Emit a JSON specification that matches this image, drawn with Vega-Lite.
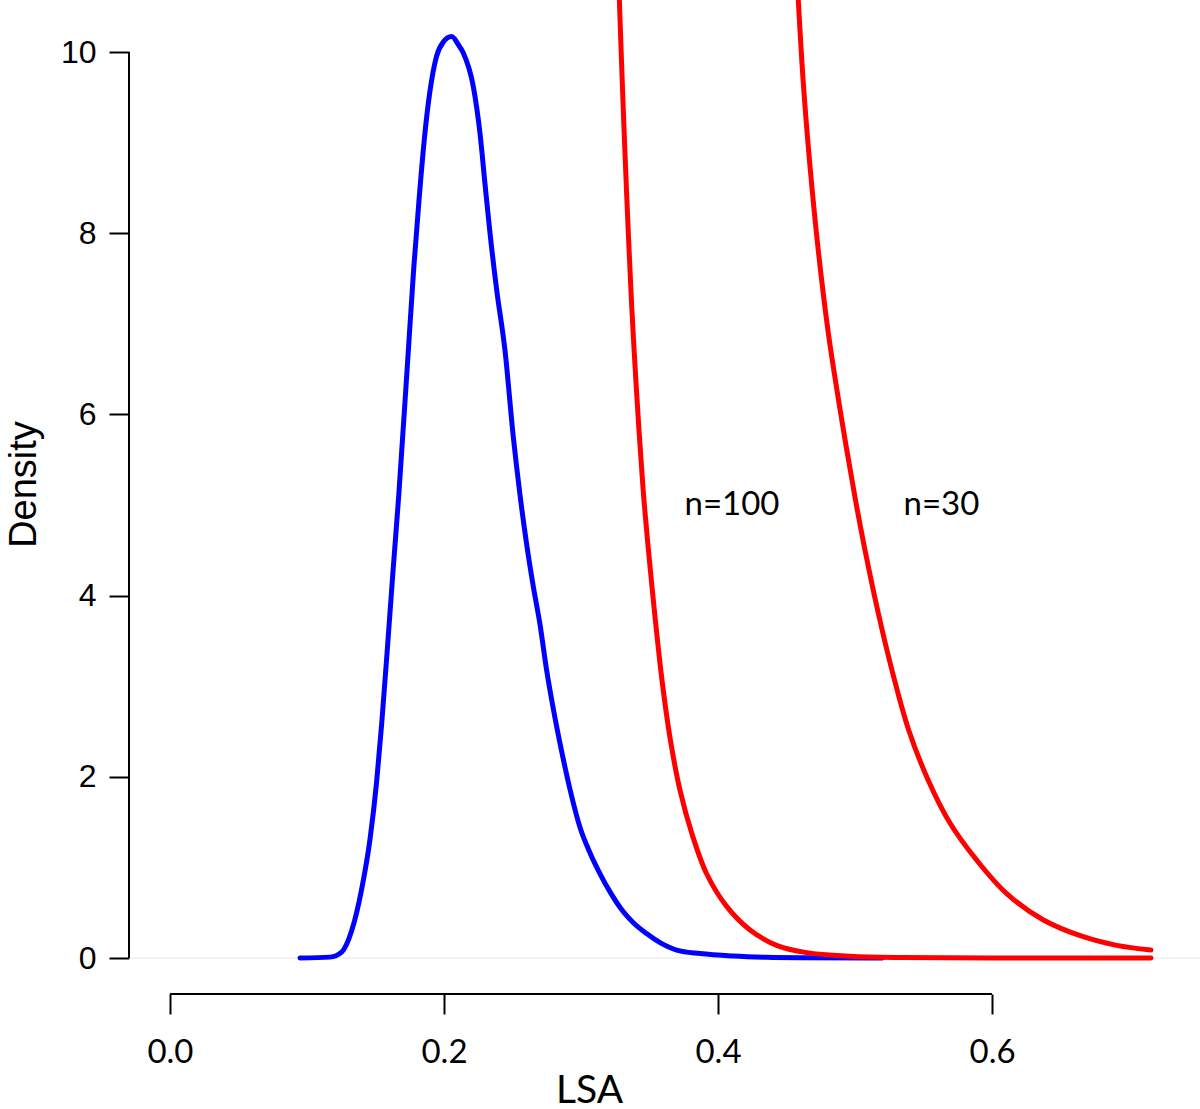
{
  "$schema": "https://vega.github.io/schema/vega-lite/v6.json",
  "width": 1071,
  "height": 994,
  "autosize": {"type": "none"},
  "padding": {"left": 129, "top": 0, "right": 0, "bottom": 115},
  "background": "white",
  "config": {"view": {"stroke": null}},
  "datasets": {
    "curves": [
      {"s": "blue", "x": 0.0949, "y": 0},
      {"s": "blue", "x": 0.1168, "y": 0.01},
      {"s": "blue", "x": 0.1253, "y": 0.065},
      {"s": "blue", "x": 0.1326, "y": 0.30},
      {"s": "blue", "x": 0.1399, "y": 0.76},
      {"s": "blue", "x": 0.1460, "y": 1.31},
      {"s": "blue", "x": 0.1508, "y": 1.94},
      {"s": "blue", "x": 0.1545, "y": 2.58},
      {"s": "blue", "x": 0.1587, "y": 3.42},
      {"s": "blue", "x": 0.1628, "y": 4.27},
      {"s": "blue", "x": 0.1670, "y": 5.11},
      {"s": "blue", "x": 0.1740, "y": 6.71},
      {"s": "blue", "x": 0.1780, "y": 7.63},
      {"s": "blue", "x": 0.1818, "y": 8.37},
      {"s": "blue", "x": 0.1856, "y": 9.03},
      {"s": "blue", "x": 0.1895, "y": 9.54},
      {"s": "blue", "x": 0.1945, "y": 9.95},
      {"s": "blue", "x": 0.1995, "y": 10.11},
      {"s": "blue", "x": 0.2056, "y": 10.17},
      {"s": "blue", "x": 0.2105, "y": 10.08},
      {"s": "blue", "x": 0.2141, "y": 9.99},
      {"s": "blue", "x": 0.2214, "y": 9.62},
      {"s": "blue", "x": 0.2263, "y": 9.10},
      {"s": "blue", "x": 0.2299, "y": 8.55},
      {"s": "blue", "x": 0.2336, "y": 8.00},
      {"s": "blue", "x": 0.2385, "y": 7.37},
      {"s": "blue", "x": 0.2445, "y": 6.71},
      {"s": "blue", "x": 0.2506, "y": 5.75},
      {"s": "blue", "x": 0.2555, "y": 5.11},
      {"s": "blue", "x": 0.2604, "y": 4.56},
      {"s": "blue", "x": 0.2652, "y": 4.10},
      {"s": "blue", "x": 0.2701, "y": 3.68},
      {"s": "blue", "x": 0.2750, "y": 3.17},
      {"s": "blue", "x": 0.2798, "y": 2.75},
      {"s": "blue", "x": 0.2859, "y": 2.28},
      {"s": "blue", "x": 0.2920, "y": 1.86},
      {"s": "blue", "x": 0.2993, "y": 1.44},
      {"s": "blue", "x": 0.3066, "y": 1.16},
      {"s": "blue", "x": 0.3139, "y": 0.93},
      {"s": "blue", "x": 0.3212, "y": 0.73},
      {"s": "blue", "x": 0.3309, "y": 0.51},
      {"s": "blue", "x": 0.3382, "y": 0.39},
      {"s": "blue", "x": 0.3479, "y": 0.27},
      {"s": "blue", "x": 0.3577, "y": 0.17},
      {"s": "blue", "x": 0.3698, "y": 0.088},
      {"s": "blue", "x": 0.3869, "y": 0.05},
      {"s": "blue", "x": 0.4112, "y": 0.022},
      {"s": "blue", "x": 0.4355, "y": 0.008},
      {"s": "blue", "x": 0.4600, "y": 0.003},
      {"s": "blue", "x": 0.5200, "y": 0},
      {"s": "n100", "x": 0.3280, "y": 10.574},
      {"s": "n100", "x": 0.3306, "y": 9.47},
      {"s": "n100", "x": 0.3335, "y": 8.37},
      {"s": "n100", "x": 0.3368, "y": 7.26},
      {"s": "n100", "x": 0.3402, "y": 6.34},
      {"s": "n100", "x": 0.3452, "y": 5.2},
      {"s": "n100", "x": 0.3490, "y": 4.54},
      {"s": "n100", "x": 0.3538, "y": 3.80},
      {"s": "n100", "x": 0.3591, "y": 3.07},
      {"s": "n100", "x": 0.3652, "y": 2.41},
      {"s": "n100", "x": 0.3723, "y": 1.85},
      {"s": "n100", "x": 0.3808, "y": 1.38},
      {"s": "n100", "x": 0.3917, "y": 0.93},
      {"s": "n100", "x": 0.4063, "y": 0.57},
      {"s": "n100", "x": 0.4234, "y": 0.31},
      {"s": "n100", "x": 0.4428, "y": 0.14},
      {"s": "n100", "x": 0.4647, "y": 0.06},
      {"s": "n100", "x": 0.4964, "y": 0.02},
      {"s": "n100", "x": 0.5328, "y": 0.005},
      {"s": "n100", "x": 0.6000, "y": 0},
      {"s": "n100", "x": 0.7160, "y": 0},
      {"s": "n30", "x": 0.4586, "y": 10.574},
      {"s": "n30", "x": 0.4623, "y": 9.65},
      {"s": "n30", "x": 0.4672, "y": 8.73},
      {"s": "n30", "x": 0.4732, "y": 7.81},
      {"s": "n30", "x": 0.4805, "y": 6.90},
      {"s": "n30", "x": 0.4900, "y": 5.97},
      {"s": "n30", "x": 0.5003, "y": 5.06},
      {"s": "n30", "x": 0.5068, "y": 4.54},
      {"s": "n30", "x": 0.5171, "y": 3.80},
      {"s": "n30", "x": 0.5276, "y": 3.14},
      {"s": "n30", "x": 0.5391, "y": 2.52},
      {"s": "n30", "x": 0.5535, "y": 1.96},
      {"s": "n30", "x": 0.5693, "y": 1.49},
      {"s": "n30", "x": 0.5888, "y": 1.08},
      {"s": "n30", "x": 0.6107, "y": 0.71},
      {"s": "n30", "x": 0.6375, "y": 0.42},
      {"s": "n30", "x": 0.6666, "y": 0.235},
      {"s": "n30", "x": 0.6910, "y": 0.14},
      {"s": "n30", "x": 0.7160, "y": 0.088}
    ],
    "zero": [{"y": 0}],
    "yaxisline": [{"x": -0.0299, "y": 0, "y2": 10}],
    "xaxisline": [{"x": 0, "x2": 0.6, "y": -0.397}],
    "labels": [
      {"x": 0.4102, "y": 5.0, "t": "n=100"},
      {"x": 0.5631, "y": 5.0, "t": "n=30"}
    ]
  },
  "layer": [
    {
      "data": {"name": "zero"},
      "mark": {"type": "rule", "color": "#e6e6e6", "strokeWidth": 1},
      "encoding": {
        "y": {
          "field": "y", "type": "quantitative",
          "scale": {"domain": [-0.397, 10.574], "nice": false, "zero": false},
          "axis": {
            "orient": "left", "values": [0, 2, 4, 6, 8, 10], "format": "d",
            "domain": false, "grid": false, "tickSize": 20, "tickWidth": 2, "tickColor": "black",
            "labelFont": "Liberation Sans, Arial, sans-serif", "labelFontSize": 32, "labelColor": "black",
            "labelBaseline": "middle", "labelAlign": "right", "labelPadding": 13, "labelFlush": false, "labelOverlap": false,
            "title": "Density", "titleFont": "Liberation Sans, Arial, sans-serif", "titleFontSize": 38, "titleFontWeight": "normal",
            "titleColor": "black", "titleAngle": 270, "titleBaseline": "alphabetic", "titleAlign": "center",
            "titleX": -94, "titleY": 484
          }
        }
      }
    },
    {
      "data": {"name": "curves"},
      "transform": [{"filter": "datum.s === 'blue'"}],
      "mark": {"type": "line", "color": "#0000ff", "strokeWidth": 5, "strokeCap": "round", "strokeJoin": "round", "interpolate": "monotone", "clip": true},
      "encoding": {
        "x": {
          "field": "x", "type": "quantitative",
          "scale": {"domain": [-0.0299, 0.7518], "nice": false, "zero": false},
          "axis": {
            "orient": "bottom", "values": [0, 0.2, 0.4, 0.6], "format": ".1f",
            "domain": false, "grid": false, "tickSize": 20, "tickWidth": 2, "tickColor": "black",
            "labelFont": "Lato", "labelFontSize": 33, "labelColor": "black",
            "labelBaseline": "alphabetic", "labelPadding": 48, "labelFlush": false, "labelOverlap": false,
            "title": "LSA", "titleFont": "Lato", "titleFontSize": 39, "titleFontWeight": "normal",
            "titleColor": "black", "titleBaseline": "alphabetic", "titleAlign": "center",
            "titleX": 460, "titleY": 108
          }
        },
        "y": {"field": "y", "type": "quantitative"}
      }
    },
    {
      "data": {"name": "curves"},
      "transform": [{"filter": "datum.s !== 'blue'"}],
      "mark": {"type": "line", "color": "#ff0000", "strokeWidth": 5, "strokeCap": "round", "strokeJoin": "round", "interpolate": "catmull-rom", "clip": true},
      "encoding": {
        "x": {"field": "x", "type": "quantitative"},
        "y": {"field": "y", "type": "quantitative"},
        "detail": {"field": "s", "type": "nominal"}
      }
    },
    {
      "data": {"name": "yaxisline"},
      "mark": {"type": "rule", "color": "black", "strokeWidth": 2},
      "encoding": {
        "x": {"field": "x", "type": "quantitative"},
        "y": {"field": "y", "type": "quantitative"},
        "y2": {"field": "y2"}
      }
    },
    {
      "data": {"name": "xaxisline"},
      "mark": {"type": "rule", "color": "black", "strokeWidth": 2},
      "encoding": {
        "x": {"field": "x", "type": "quantitative"},
        "x2": {"field": "x2"},
        "y": {"field": "y", "type": "quantitative"}
      }
    },
    {
      "data": {"name": "labels"},
      "mark": {"type": "text", "font": "Lato", "fontSize": 33, "color": "black", "align": "center", "baseline": "middle"},
      "encoding": {
        "x": {"field": "x", "type": "quantitative"},
        "y": {"field": "y", "type": "quantitative"},
        "text": {"field": "t"}
      }
    }
  ]
}
